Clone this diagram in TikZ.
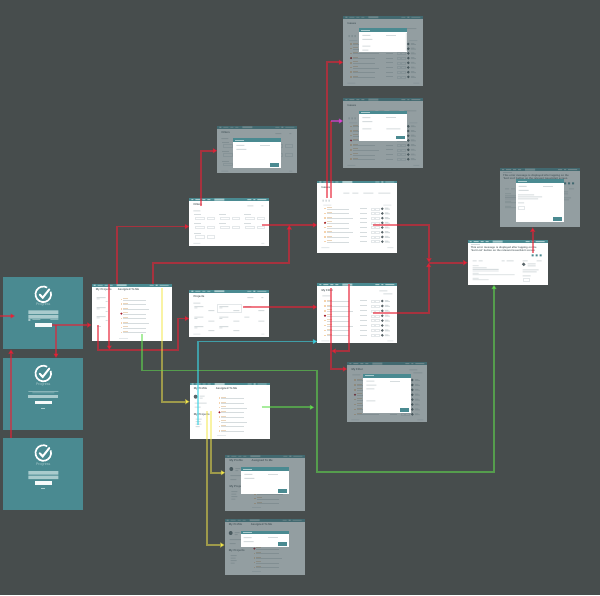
\documentclass[tikz,border=0pt]{standalone}
\usepackage{fontspec}
\setmainfont{Liberation Sans}
\usetikzlibrary{arrows.meta,calc}
\definecolor{canvasC}{HTML}{474D4D}
\definecolor{dimC}{HTML}{3C4F55}
\definecolor{tealC}{HTML}{4A8A91}
\definecolor{tealL}{HTML}{A9CBCD}
\definecolor{barC}{HTML}{D6DCDE}
\definecolor{boxC}{HTML}{E4E8EA}
\definecolor{inkC}{HTML}{5A666A}
\definecolor{markC}{HTML}{F5D3AE}
\definecolor{redC}{HTML}{E82035}
\definecolor{oliveC}{HTML}{F5E84A}
\definecolor{greenC}{HTML}{62E04E}
\definecolor{cyanC}{HTML}{3CD4E4}
\definecolor{pinkC}{HTML}{E040DA}

\newcommand{\navbar}[1]{%
  \fill[tealC] (0,0) rectangle (#1,2.6);
  \fill[tealL] (2,.7) rectangle (4,1.9) (6,.9) rectangle (11,1.7) (13,.9) rectangle (16,1.7)
               (18,.9) rectangle (21,1.7) (25,.4) rectangle (35,2.2);
  \fill[tealL] (#1-22,.9) rectangle (#1-18,1.7) (#1-16,.7) rectangle (#1-14,1.9) (#1-12,.9) rectangle (#1-3,1.7);
}
\newcommand{\taskrows}[5]{% x, first y, spacing, count, length
  \foreach \r in {1,...,#4} {
    \pgfmathsetmacro{\ry}{#2+(\r-1)*#3}
    \pgfmathsetmacro{\rw}{#5*(1-0.14*mod(\r*\r,3))}
    \fill[markC] (#1,\ry-.8) rectangle ++(1.5,1.5);
    \fill[markC!70!barC] (#1+2.5,\ry-1.4) rectangle ++(5,.9);
    \fill[barC] (#1+2.5,\ry) rectangle ++(\rw,1);
  }
  \fill[redC!70!black] ({#1+.75},{#2+3*#3}) circle (1.1pt);
}
\newcommand{\issuecols}[3]{% first y, spacing, count
  \foreach \r in {1,...,#3} {
    \pgfmathsetmacro{\ry}{#1+(\r-1)*#2}
    \fill[barC] (43,\ry-.6) rectangle ++(7,1);
    \draw[boxC, line width=.3pt] (54,\ry-1) rectangle ++(3,2) (58,\ry-1) rectangle ++(3.5,2);
    \fill[inkC] (65,\ry) circle (1.4pt);
    \fill[barC] (67.5,\ry-1) rectangle ++(3.5,.9) (67.5,\ry) rectangle ++(5,.9);
  }
}
\newcommand{\homebody}{%
  \navbar{80}
  \node[lbl, font=\fontsize{2.8}{3}\bfseries] (t1) at (4,6) {My Projects};
  \node[lbl, font=\fontsize{2.8}{3}\bfseries] (t2) at (26,6) {Assigned To Me};
  \foreach \ly in {13,23,32} {
    \fill[barC] (5,\ly) rectangle ++(9,1) (5,\ly+1.5) rectangle ++(3,.8) (14,\ly+4) rectangle ++(2,.8);
  }
  \fill[barC] (5,42) rectangle ++(4,1);
  \taskrows{29}{15.5}{4.7}{8}{26}
  \fill[boxC] (27,53.5) rectangle ++(9,1);
}
\newcommand{\profilebody}{%
  \navbar{80}
  \node[lbl, font=\fontsize{2.8}{3}\bfseries] (t1) at (4,6) {My Profile};
  \node[lbl, font=\fontsize{2.8}{3}\bfseries] (t2) at (26,6) {Assigned To Me};
  \fill[inkC] (6,14) circle (2pt);
  \fill[barC] (10,13) rectangle ++(5,1) (10,15) rectangle ++(3,1) (5,20) rectangle ++(12,1) (5,24) rectangle ++(6,1);
  \node[lbl, font=\fontsize{2.8}{3}\bfseries] (t3) at (4,32) {My Projects};
  \fill[barC] (6,36) rectangle ++(6,1) (6,38.5) rectangle ++(5,1) (6,41) rectangle ++(6,1) (6,43.5) rectangle ++(4,1);
  \taskrows{29}{15.5}{4.7}{8}{26}
  \fill[boxC] (27,52) rectangle ++(9,1);
}
\newcommand{\filterbody}{%
  \navbar{80}
  \node[lbl, font=\fontsize{2.8}{3}\bfseries] (t1) at (4,6.5) {Filters};
  \fill[barC] (4,12) rectangle ++(7,1) (58,7) rectangle ++(6,1) (72,7) rectangle ++(2,1);
  \foreach \cx in {5,29.5,54.5} {
    \foreach \cy in {16,25,34.5} {
      \fill[barC] (\cx,\cy) rectangle ++(7,1);
      \draw[boxC, line width=.3pt] (\cx+1,\cy+2.5) rectangle ++(9,2.5) (\cx+13,\cy+2.5) rectangle ++(7,2.5);
    }
  }
  \fill[white] (28,33) rectangle (78,42);
  \fill[boxC] (4,44.5) rectangle ++(7,1) (72,44.5) rectangle ++(3,1);
}
\newcommand{\issuesbody}{%
  \navbar{80}
  \node[lbl, font=\fontsize{2.8}{3}\bfseries] (t1) at (4,7.3) {Issues};
  \fill[barC] (26,12) rectangle ++(6,1) (35,12) rectangle ++(6,1) (46,12) rectangle ++(10,1) (61,12) rectangle ++(12,1);
  \fill[barC] (5,19) rectangle ++(1.5,2) (8,19) rectangle ++(1.5,2) (11,19) rectangle ++(1.5,2);
  \fill[boxC] (6,24) rectangle ++(8,1) (66,24) rectangle ++(8,1);
  \taskrows{7}{28}{4.7}{8}{26}
  \issuecols{28}{4.7}{8}
  \fill[boxC] (4,66.5) rectangle ++(8,1) (70,66.5) rectangle ++(6,1);
}
\newcommand{\myfilterbody}{%
  \navbar{80}
  \node[lbl, font=\fontsize{2.8}{3}\bfseries] (t1) at (4,7) {My Filter};
  \fill[barC] (62,7) rectangle ++(8,1) (66,10) rectangle ++(9,1) (5,12) rectangle ++(8,1);
  \taskrows{7}{17.7}{4.9}{8}{26}
  \issuecols{17.7}{4.9}{8}
  \fill[boxC] (4,57) rectangle ++(8,1) (70,57) rectangle ++(6,1);
}
\newcommand{\detailbody}{%
  \navbar{80}
  \fill[barC] (3,4) rectangle ++(9,.8);
  \node[lbl, font=\fontsize{2.6}{3.2}\bfseries, text width=72pt, align=left] (t1) at (3,8.8)
    {This error message is displayed after tapping on the ‘Sort List’ button on the relevant Issue/Alert screen};
  \fill[tealC] (64,14) rectangle ++(2,2) (68,14) rectangle ++(2,2) (72,14) rectangle ++(2,2);
  \fill[barC] (5,20) rectangle ++(4,1) (11,20) rectangle ++(4,1) (34,20) rectangle ++(3,1) (39,20) rectangle ++(7,1)
              (55,20) rectangle ++(5,1) (69,20) rectangle ++(5,1);
  \fill[barC] (5,25) rectangle ++(6,.9) (5,27) rectangle ++(14,.9) (5,28.6) rectangle ++(26,.9) (5,30.2) rectangle ++(26,.9)
              (5,32.5) rectangle ++(6,.9) (5,34) rectangle ++(42,.9) (5,37.5) rectangle ++(6,.9) (5,39) rectangle ++(16,.9);
  \fill[inkC] (56,24) circle (1.8pt);
  \fill[barC] (60,23) rectangle ++(8,1) (60,25) rectangle ++(8,1) (55,29) rectangle ++(16,1) (55,31) rectangle ++(14,1) (55,35) rectangle ++(8,1);
  \draw[boxC, line width=.3pt] (55,37.5) rectangle ++(6,3);
}
\newcommand{\dimlayer}[2]{\fill[dimC, opacity=.55] (0,0) rectangle (#1,#2);}
\newcommand{\dialog}[4]{% x, y, w, h
  \fill[white] (#1,#2) rectangle ++(#3,#4);
  \fill[tealC] (#1,#2) rectangle ++(#3,3.5);
  \fill[tealL] (#1+2,#2+1.4) rectangle ++(9,.8);
  \fill[barC] (#1+3,#2+6.5) rectangle ++(8,1) (#1+3,#2+10.5) rectangle ++(10,1);
  \fill[barC] (#1+27,#2+6.5) rectangle ++(10,1);
}
\newcommand{\dlgbutton}[4]{\fill[tealC] (#1+#3-11,#2+#4-5) rectangle ++(9,3.5);}
\newcommand{\checklogo}[1]{%
  \begin{scope}[shift={(#1)}]
    \draw[white, line width=1.7pt] (60:7.8pt) arc[start angle=60, end angle=380, radius=7.8pt];
    \draw[white, line width=2pt, line cap=round] (-3.6,.2) -- (-.6,3.4) -- (6,-5);
  \end{scope}
}
\newcommand{\loginbars}[1]{\fill[tealL] (25,#1) rectangle ++(30,3.6) (25,#1+4.6) rectangle ++(30,3.6);}

\begin{document}
\begin{tikzpicture}[
  x=1pt, y=-1pt,
  >={Triangle[length=4.5pt,width=5pt]},
  screen/.style ={fill=white, anchor=north west, inner sep=0pt, outer sep=0pt,
                  minimum width=80pt},
  login/.style  ={fill=tealC, anchor=north west, inner sep=0pt, outer sep=0pt,
                  minimum width=80pt, minimum height=72pt},
  lbl/.style    ={anchor=west, inner sep=0pt, text=inkC},
  loginlbl/.style={inner sep=0pt, text=tealL, font=\fontsize{3.6}{4}\selectfont},
  flow/.style   ={->, line width=1.7pt, draw opacity=.6},
  redline/.style  ={flow, draw=redC},
  olive/.style  ={flow, draw=oliveC, draw opacity=.5},
  greenline/.style={flow, draw=greenC, draw opacity=.55},
  cyanline/.style ={flow, draw=cyanC, draw opacity=.6},
]
\useasboundingbox (0,0) rectangle (600,595);
\fill[canvasC] (0,0) rectangle (600,595);

% ---- login screens ---------------------------------------------------------
\node[login] (signin) at (3.3,277.3) {};
\node[login] (forgot) at (3.3,358) {};
\node[login] (reset)  at (3.3,438) {};
\begin{scope}[shift={(signin.north west)}]
  \checklogo{40,17}
  \node[loginlbl] (nameA) at (40,27.5) {Progress};
  \loginbars{33}
  \fill[tealL] (25,41.5) rectangle ++(2,2) (29,42) rectangle ++(8,.6) (47,42) rectangle ++(8,.6);
  \fill[white!90!tealL] (32,46) rectangle ++(16.7,3.7);
\end{scope}
\begin{scope}[shift={(forgot.north west)}]
  \checklogo{40,15.5}
  \node[loginlbl] (nameB) at (40,27) {Progress};
  \fill[tealL] (25,33.2) rectangle ++(30,.5) (29,34.6) rectangle ++(22,.5);
  \fill[tealL] (25,37) rectangle ++(30,3.4);
  \fill[white!90!tealL] (32,42.7) rectangle ++(16.7,3.7);
  \fill[tealL] (38,50.2) rectangle ++(4,.5);
\end{scope}
\begin{scope}[shift={(reset.north west)}]
  \checklogo{40,15}
  \node[loginlbl] (nameC) at (40,27) {Progress};
  \loginbars{33}
  \fill[white!90!tealL] (32,43) rectangle ++(16.7,3.7);
  \fill[tealL] (38,50) rectangle ++(4,.5);
\end{scope}

% ---- white screens ---------------------------------------------------------
\node[screen, minimum height=57pt] (home)     at (91.7,284) {};
\node[screen, minimum height=47pt] (projects) at (189.3,290) {};
\node[screen, minimum height=48pt] (filters)  at (189.3,198.3) {};
\node[screen, minimum height=72.6pt] (issues) at (317.3,180.7) {};
\node[screen, minimum height=59.4pt] (myfilter) at (317.3,283.3) {};
\node[screen, minimum height=44.4pt] (detail) at (467.7,240.3) {};
\node[screen, minimum height=56pt] (profile)  at (189.7,382.7) {};
\begin{scope}[shift={(home.north west)}] \homebody \end{scope}
\begin{scope}[shift={(filters.north west)}] \filterbody \end{scope}
\begin{scope}[shift={(projects.north west)}]
  \navbar{80}
  \node[lbl, font=\fontsize{2.8}{3}\bfseries] (t1) at (4,7) {Projects};
  \fill[barC] (4,12.5) rectangle ++(7,1) (58,7) rectangle ++(6,1) (72,7) rectangle ++(2,1);
  \foreach \cx in {5,30} {
    \foreach \cy in {16,26.5,36} {
      \fill[barC] (\cx,\cy) rectangle ++(9,1) (\cx,\cy+1.5) rectangle ++(3,.8) (\cx+14,\cy+4) rectangle ++(6,1);
    }
  }
  \fill[barC] (55,16) rectangle ++(7,1) (55,26.5) rectangle ++(5,1) (69,20) rectangle ++(6,1) (69,30.5) rectangle ++(6,1);
  \draw[boxC, line width=.3pt] (28,14.5) rectangle ++(24,8);
  \fill[boxC] (4,43.5) rectangle ++(7,1) (72,43.5) rectangle ++(3,1);
\end{scope}
\begin{scope}[shift={(issues.north west)}] \issuesbody \end{scope}
\begin{scope}[shift={(myfilter.north west)}] \myfilterbody \end{scope}
\begin{scope}[shift={(detail.north west)}] \detailbody \end{scope}
\begin{scope}[shift={(profile.north west)}] \profilebody \end{scope}

% ---- dimmed screens with a dialog ------------------------------------------
\node[screen, minimum height=46.7pt] (newfilter) at (217.3,126) {};
\node[screen, minimum height=70pt]   (sortlist)  at (343.3,16) {};
\node[screen, minimum height=70pt]   (newtask)   at (343.3,98.3) {};
\node[screen, minimum height=59pt]   (editdetail) at (500,168.3) {};
\node[screen, minimum height=60pt]   (edittask)  at (347.3,362.3) {};
\node[screen, minimum height=55.7pt] (editprofile) at (225.3,455) {};
\node[screen, minimum height=55.7pt] (changepass)  at (224.7,519) {};
\begin{scope}[shift={(newfilter.north west)}]
  \filterbody \dimlayer{80}{46.7}
  \dialog{16}{12.3}{48}{30} \dlgbutton{16}{12.3}{48}{30}
\end{scope}
\begin{scope}[shift={(sortlist.north west)}]
  \issuesbody \dimlayer{80}{70}
  \dialog{16}{12.3}{48}{24}
  \fill[barC] (19,29.5) rectangle ++(8,1) (19,33.5) rectangle ++(6,1) (62.5,17) rectangle ++(.8,18);
\end{scope}
\begin{scope}[shift={(newtask.north west)}]
  \issuesbody \dimlayer{80}{70}
  \dialog{16}{12.3}{48}{30} \dlgbutton{16}{12.3}{48}{30}
  \fill[barC] (19,30) rectangle ++(9,1) (43,30) rectangle ++(14,1);
\end{scope}
\begin{scope}[shift={(editdetail.north west)}]
  \detailbody \dimlayer{80}{59}
  \dialog{15.7}{11}{48}{43} \dlgbutton{15.7}{11}{48}{43}
  \fill[barC] (18,26) rectangle ++(16,1) (18,28) rectangle ++(24,1) (18,30) rectangle ++(20,1) (18,34) rectangle ++(6,1);
  \draw[boxC, line width=.3pt] (18,38) rectangle ++(6,3);
\end{scope}
\begin{scope}[shift={(edittask.north west)}]
  \myfilterbody \dimlayer{80}{60}
  \dialog{16}{11.7}{48}{39.3} \dlgbutton{16}{11.7}{48}{39.3}
  \fill[barC] (19,26) rectangle ++(8,1) (19,38) rectangle ++(9,1);
\end{scope}
\begin{scope}[shift={(editprofile.north west)}]
  \profilebody \dimlayer{80}{55.7}
  \dialog{16}{12.3}{48}{27} \dlgbutton{16}{12.3}{48}{27}
\end{scope}
\begin{scope}[shift={(changepass.north west)}]
  \profilebody \dimlayer{80}{55.7}
  \dialog{16}{11.7}{48}{16.7} \dlgbutton{16}{11.7}{48}{16.7}
\end{scope}

% ---- link start points, inside the screens ---------------------------------
\coordinate (entry)   at (0,316);
\coordinate (entryB)  at (15,316);
\coordinate (btnA)    at (52,325);
\coordinate (btnB)    at (56,325);
\coordinate (linkC)   at (11,438);
\coordinate (navA)    at (109.3,284);
\coordinate (navB)    at (116.7,284);
\coordinate (navC)    at (153.3,284);
\coordinate (moreA)   at (98.3,325);
\coordinate (homeLow) at (109.3,350);
\coordinate (taskG)   at (142.3,334);
\coordinate (taskY)   at (161.7,288);
\coordinate (addF)    at (201,206);
\coordinate (filtOut) at (261.7,225);
\coordinate (projOut) at (243.3,307);
\coordinate (joinA)   at (289.3,225);
\coordinate (issA)    at (327,198);
\coordinate (issB)    at (331,198);
\coordinate (issRow)  at (373,225);
\coordinate (myRow)   at (373,312.7);
\coordinate (myA)     at (331.3,288);
\coordinate (myB)     at (349.3,284);
\coordinate (joinB)   at (428.7,262.7);
\coordinate (detOut)  at (532.7,253);
\coordinate (profC)   at (198.3,425);
\coordinate (profG)   at (261.7,407.3);
\coordinate (profY1)  at (210.7,411);
\coordinate (profY2)  at (206.7,411);

% ---- red links -------------------------------------------------------------
\draw[redline] (entry) -- (entryB);
\draw[redline] (btnA) -- (btnA -| home.west);
\draw[redline] (btnB) -- (btnB |- forgot.north);
\draw[redline] (linkC) -- (linkC |- signin.south);
\draw[redline] (navA) -- (homeLow);
\draw[redline] (moreA) -- (98.3,350) -- (177.7,350) -- (177.7,318.5) -- (189.3,318.5);
\draw[redline] (navB) -- (116.7,226.5) -- (189.3,226.5);
\draw[redline] (navC) -- (153.3,262.7) -- (289.3,262.7) -- (joinA);
\draw[redline] (filtOut) -- (issues.west |- filtOut);
\draw[redline] (addF) |- (newfilter.west |- 0,150.7);
\draw[redline] (projOut) -- (myfilter.west |- projOut);
\draw[redline] (issA) |- (sortlist.west |- 0,62.3);
\draw[redline, -] (issB) -- (331,121);
\draw[flow, draw=pinkC] (331,121) -- (newtask.west |- 0,121);
\draw[redline] (issRow) -- (429,225) -- (429,262.7);
\draw[redline] (myRow) -- (428.7,312.7) -- (joinB);
\draw[redline] (joinB) -- (detail.west |- joinB);
\draw[redline] (detOut) -- (detOut |- editdetail.south);
\draw[redline] (myA) |- (edittask.west |- 0,369);
\draw[redline] (myB) |- (331.3,351);

% ---- yellow, green and blue links ------------------------------------------
\draw[olive] (taskY) |- (profile.west |- 0,401.7);
\draw[olive] (profY1) |- (editprofile.west |- 0,472.7);
\draw[olive] (profY2) |- (changepass.west |- 0,545);
\draw[greenline] (taskG) -- (142.3,370.5) -- (316.7,370.5) -- (316.7,472) -- (494,472) -- (494,284.7);
\draw[greenline] (profG) -- (314.3,407.3);
\draw[cyanline] (profC) |- (myfilter.west |- 0,341.5);
\end{tikzpicture}
\end{document}
